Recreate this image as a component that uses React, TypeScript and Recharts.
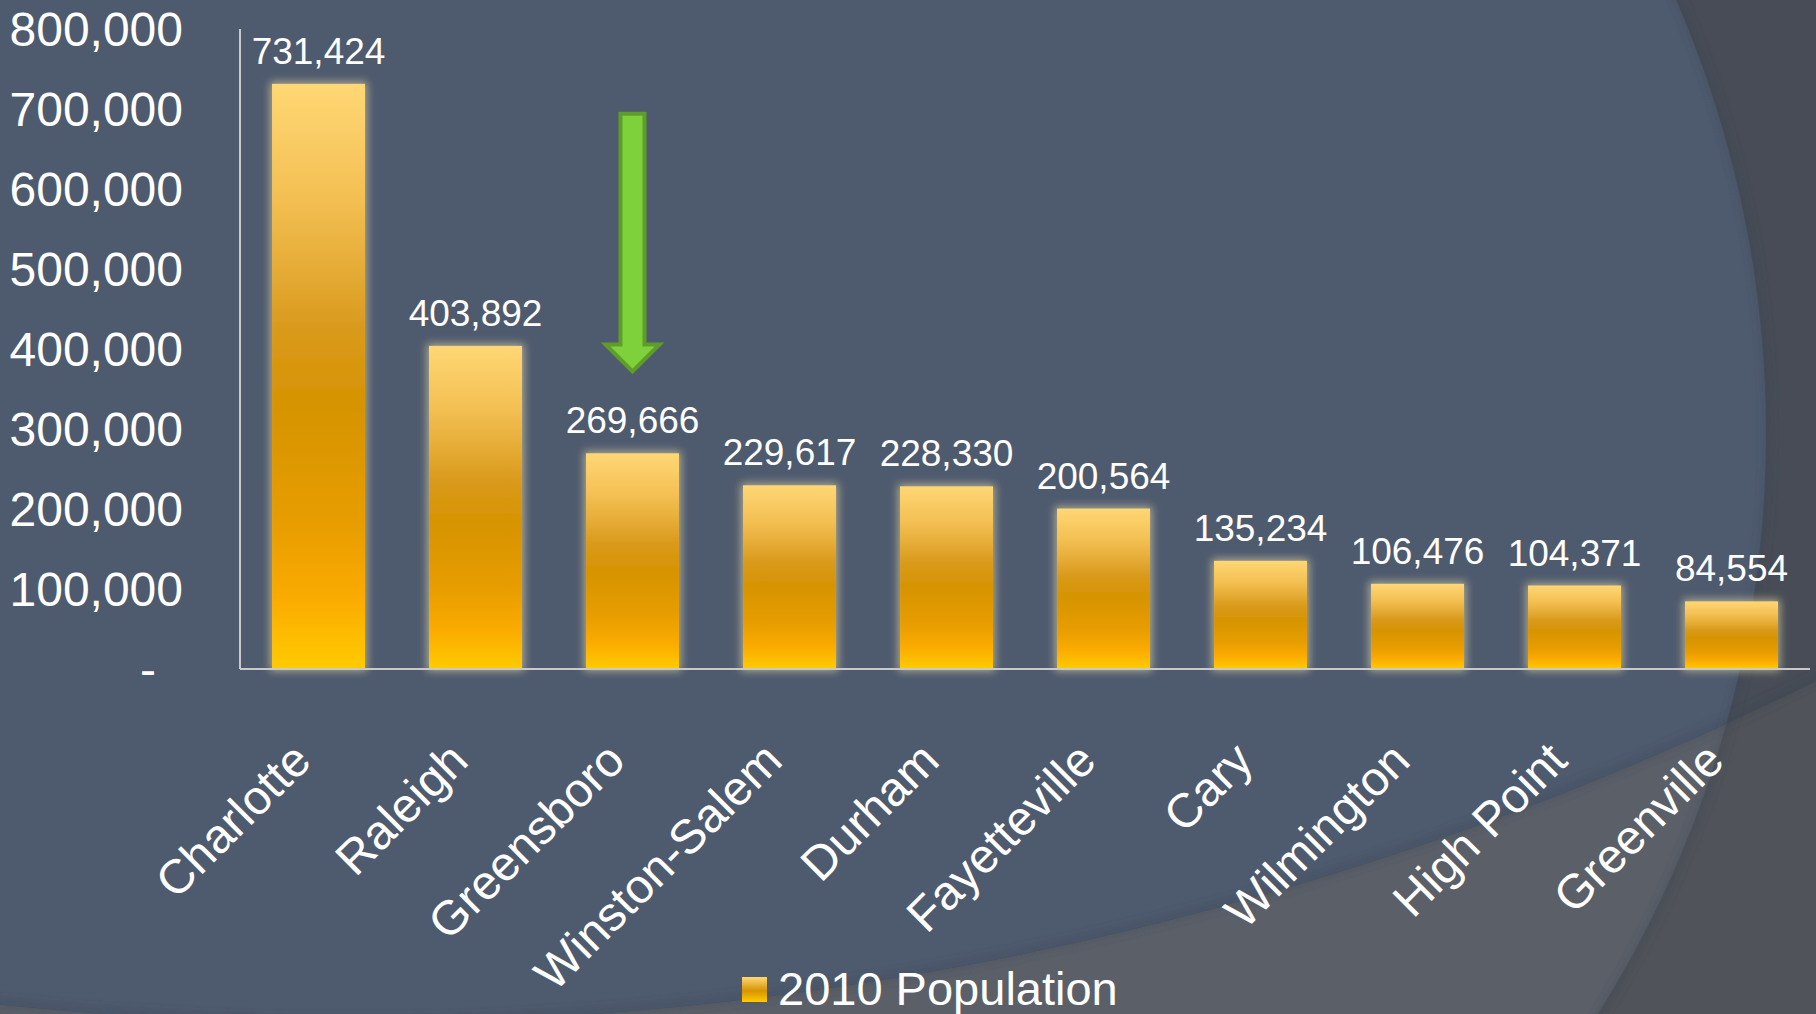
import React from 'react';
import { BarChart, Bar, XAxis, YAxis, Legend, LabelList, ReferenceLine } from 'recharts';

const cities = [
  'Charlotte',
  'Raleigh',
  'Greensboro',
  'Winston-Salem',
  'Durham',
  'Fayetteville',
  'Cary',
  'Wilmington',
  'High Point',
  'Greenville',
];
const population2010 = [731424, 403892, 269666, 229617, 228330, 200564, 135234, 106476, 104371, 84554];
const yTicks = [0, 100000, 200000, 300000, 400000, 500000, 600000, 700000, 800000];
const seriesName = '2010 Population';

// green arrow pointing at one city
const arrowCity = 'Greensboro';
const arrowTop = 694000;
const arrowTip = 372000;

const data = cities.map((city, i) => ({ city, population: population2010[i] }));

const FONT = '"Liberation Sans", Arial, Helvetica, sans-serif';
const W = 1816;
const H = 1014;

const ValueTick = (props: any) => {
  const { x, y, payload } = props;
  const v = payload.value as number;
  return (
    <text
      x={v === 0 ? x - 27 : x}
      y={y}
      dy={17}
      textAnchor="end"
      fill="#ffffff"
      fontSize={48}
      fontFamily={FONT}
    >
      {v === 0 ? '-' : v.toLocaleString('en-US')}
    </text>
  );
};

const CityTick = (props: any) => {
  const { x, y, payload } = props;
  const ax = x - 5;
  const ay = y + 94;
  return (
    <text
      x={ax}
      y={ay}
      transform={`rotate(-45, ${ax}, ${ay})`}
      textAnchor="end"
      fill="#ffffff"
      fontSize={48}
      fontFamily={FONT}
    >
      {payload.value}
    </text>
  );
};

const GlowBar = (props: any) => {
  const { x, y, width, height } = props;
  return <rect x={x} y={y} width={width} height={height} fill="url(#barFill)" filter="url(#barGlow)" />;
};

const ArrowShape = (props: any) => {
  const { x1, y1, y2 } = props;
  const cx = x1;
  const shaft = 12;
  const head = 27;
  const headTop = y2 - 27;
  const d = `M${cx - shaft},${y1} L${cx + shaft},${y1} L${cx + shaft},${headTop} L${cx + head},${headTop} L${cx},${y2} L${cx - head},${headTop} L${cx - shaft},${headTop} Z`;
  return <path d={d} fill="#7fd13b" stroke="#5f9d2b" strokeWidth={4} strokeLinejoin="miter" />;
};

const LegendContent = () => (
  <div
    style={{
      height: 50,
      display: 'flex',
      alignItems: 'center',
      paddingLeft: 742,
      boxSizing: 'border-box',
      fontFamily: FONT,
    }}
  >
    <span
      style={{
        width: 25,
        height: 25,
        display: 'inline-block',
        background: 'linear-gradient(#ffd775, #d69400 55%, #ffcb00)',
      }}
    />
    <span style={{ marginLeft: 11, fontSize: 47, color: '#ffffff', lineHeight: '50px' }}>{seriesName}</span>
  </div>
);

const Background = () => (
  <svg width={W} height={H} style={{ position: 'absolute', left: 0, top: 0 }}>
    <defs>
      <clipPath id="inArc">
        <circle cx={350} cy={-2292} r={3315} />
      </clipPath>
      <filter id="soft" x="-10%" y="-10%" width="120%" height="120%">
        <feGaussianBlur stdDeviation="5" />
      </filter>
    </defs>
    <rect width={W} height={H} fill="#505359" />
    <circle cx={678} cy={433} r={1088} fill="#5a5f68" />
    <circle cx={350} cy={-2292} r={3315} fill="#474c56" />
    <circle cx={678} cy={433} r={1088} fill="#4e5a6e" clipPath="url(#inArc)" />
    <circle cx={678} cy={433} r={1090} fill="none" stroke="#3c4452" strokeOpacity={0.45} strokeWidth={6} filter="url(#soft)" />
    <circle cx={350} cy={-2292} r={3313} fill="none" stroke="#3c4452" strokeOpacity={0.45} strokeWidth={6} filter="url(#soft)" />
  </svg>
);

export default function App() {
  return (
    <div style={{ position: 'fixed', left: 0, top: 0, width: W, height: H, overflow: 'hidden' }}>
      <Background />
      <div style={{ position: 'absolute', left: 0, top: 0 }}>
        <BarChart
          width={W}
          height={H}
          data={data}
          margin={{ top: 29, right: 6, left: 0, bottom: 0 }}
          barCategoryGap="20.4%"
          style={{ fontFamily: FONT }}
        >
          <defs>
            <linearGradient id="barFill" x1="0" y1="0" x2="0" y2="1">
              <stop offset="0%" stopColor="#ffd775" />
              <stop offset="20%" stopColor="#f3bf52" />
              <stop offset="42%" stopColor="#d99a1c" />
              <stop offset="55%" stopColor="#d69400" />
              <stop offset="75%" stopColor="#e79d00" />
              <stop offset="88%" stopColor="#fbab00" />
              <stop offset="100%" stopColor="#ffcb00" />
            </linearGradient>
            <filter id="barGlow" x="-30%" y="-30%" width="160%" height="160%">
              <feMorphology in="SourceAlpha" operator="dilate" radius="2" result="dil" />
              <feGaussianBlur in="dil" stdDeviation="4" result="blur" />
              <feFlood floodColor="#efe2a8" floodOpacity="0.6" />
              <feComposite in2="blur" operator="in" result="glow" />
              <feMerge>
                <feMergeNode in="glow" />
                <feMergeNode in="SourceGraphic" />
              </feMerge>
            </filter>
          </defs>
          <XAxis
            dataKey="city"
            interval={0}
            height={295}
            tickLine={false}
            tickSize={0}
            tickMargin={0}
            axisLine={{ stroke: '#c9c9c9', strokeWidth: 2 }}
            tick={<CityTick />}
          />
          <YAxis
            width={240}
            domain={[0, 800000]}
            ticks={yTicks}
            interval={0}
            tickLine={false}
            tickSize={0}
            tickMargin={57}
            axisLine={{ stroke: '#c9c9c9', strokeWidth: 2 }}
            tick={<ValueTick />}
          />
          <Legend verticalAlign="bottom" height={50} content={<LegendContent />} />
          <Bar dataKey="population" name={seriesName} shape={<GlowBar />} isAnimationActive={false}>
            <LabelList
              dataKey="population"
              position="top"
              offset={20}
              fill="#ffffff"
              fontSize={37}
              fontFamily={FONT}
              formatter={(v: any) => Number(v).toLocaleString('en-US')}
            />
          </Bar>
          <ReferenceLine
            segment={[
              { x: arrowCity, y: arrowTop },
              { x: arrowCity, y: arrowTip },
            ]}
            shape={<ArrowShape />}
          />
        </BarChart>
      </div>
    </div>
  );
}
